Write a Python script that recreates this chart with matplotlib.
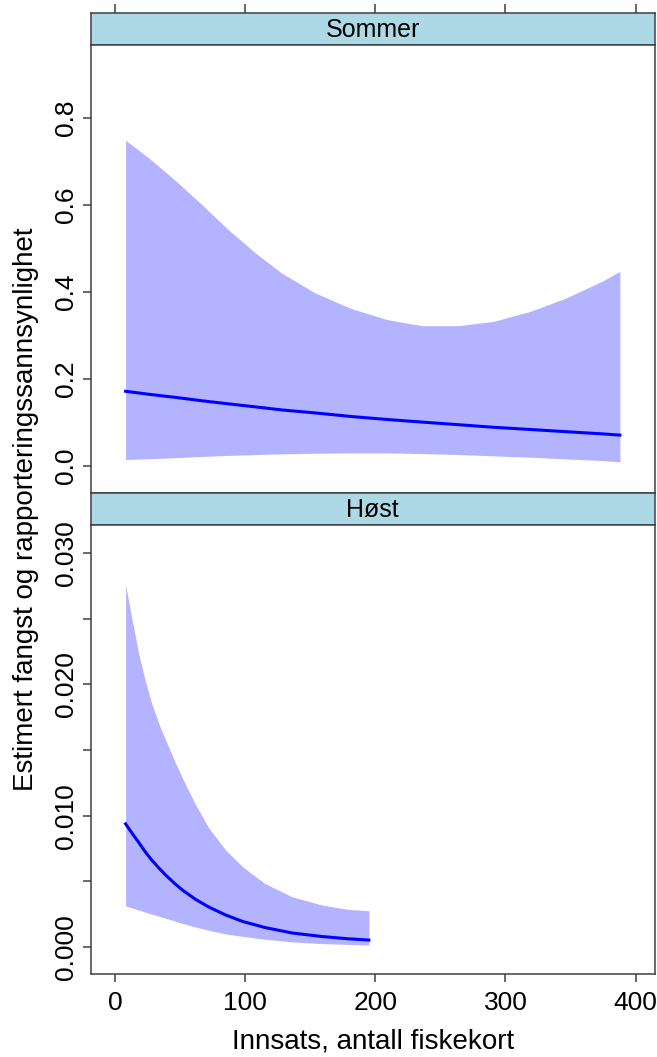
import numpy as np
import matplotlib
matplotlib.use("Agg")
import matplotlib.pyplot as plt

plt.rcParams['font.family'] = ['Liberation Sans', 'DejaVu Sans']

# Sommer panel
sommer_x = [8, 26, 46, 67, 87, 108, 128, 154, 181, 209, 236, 264, 291, 319, 346, 374, 388]
sommer_fit = [0.171, 0.164, 0.157, 0.149, 0.142, 0.135, 0.128, 0.121, 0.113, 0.106,
              0.100, 0.094, 0.088, 0.083, 0.078, 0.073, 0.070]
sommer_lo = [0.0138, 0.0157, 0.0179, 0.0209, 0.0232, 0.0253, 0.0269, 0.0283, 0.0291,
             0.0291, 0.0276, 0.0253, 0.0222, 0.0192, 0.0153, 0.0115, 0.0084]
sommer_hi = [0.749, 0.708, 0.657, 0.600, 0.543, 0.489, 0.443, 0.397, 0.362, 0.336,
             0.322, 0.322, 0.332, 0.355, 0.385, 0.424, 0.447]

# Høst panel
host_x = [8, 13, 18, 23, 28, 34, 39, 46, 52, 62, 72, 85, 98, 115, 136, 159, 179, 195]
host_fit = [0.00937, 0.00865, 0.00797, 0.00725, 0.00662, 0.00596, 0.00545, 0.00480,
            0.00430, 0.00360, 0.00303, 0.00242, 0.00193, 0.00147, 0.00105, 0.00078,
            0.00061, 0.00051]
host_lo = [0.00312, 0.00296, 0.00281, 0.00264, 0.00249, 0.00232, 0.00217, 0.00196,
           0.00177, 0.00150, 0.00126, 0.00098, 0.00079, 0.00058, 0.00037, 0.00024,
           0.00018, 0.00013]
host_hi = [0.02758, 0.02493, 0.02237, 0.02034, 0.01856, 0.01690, 0.01570, 0.01410,
           0.01280, 0.01080, 0.00905, 0.00737, 0.00610, 0.00483, 0.00381, 0.00318,
           0.00285, 0.00275]

x_ticks = [0, 100, 200, 300, 400]
sommer_ticks = [0.0, 0.2, 0.4, 0.6, 0.8]
host_ticks = [0.000, 0.010, 0.020, 0.030]
host_minor = [0.005, 0.015, 0.025]

W, H = 657, 1057
fig = plt.figure(figsize=(W / 100, H / 100), dpi=100)

left = 91 / W
width = (654.5 - 91) / W
frame_col = '0.25'
band_col = '#B3B3FF'
strip_col = '#ADD8E6'
tick_fs = 19


def box(y0, y1):
    # y0, y1 in pixels from the top
    return [left, 1 - y1 / H, width, (y1 - y0) / H]


def style(ax):
    for s in ax.spines.values():
        s.set_color(frame_col)
        s.set_linewidth(1.1)
    ax.tick_params(colors=frame_col, labelcolor='black', length=6, width=1.1,
                   direction='out', labelsize=tick_fs)


strip1 = fig.add_axes(box(13.3, 45.2))
ax1 = fig.add_axes(box(45.2, 493.3))
strip2 = fig.add_axes(box(493.3, 525.3))
ax2 = fig.add_axes(box(525.3, 974.3))

for ax in [strip1, ax1, strip2, ax2]:
    style(ax)
    ax.set_xlim(-18.6, 414.6)

# strips
for st, name in [(strip1, 'Sommer'), (strip2, 'Høst')]:
    st.set_facecolor(strip_col)
    st.set_ylim(0, 1)
    st.set_yticks([])
    st.text(0.5, 0.47, name, transform=st.transAxes, ha='center', va='center',
            fontsize=18)

strip1.xaxis.set_ticks_position('top')
strip1.set_xticks(x_ticks)
strip1.tick_params(axis='x', labeltop=False, length=6.5)
strip2.set_xticks([])

# Sommer panel
ax1.fill_between(sommer_x, sommer_lo, sommer_hi, color=band_col, lw=0)
ax1.plot(sommer_x, sommer_fit, color='#0000FF', lw=2.2)
ax1.set_ylim(-0.064, 0.968)
ax1.set_xticks([])
ax1.set_yticks(sommer_ticks)
ax1.set_yticklabels(['0.0', '0.2', '0.4', '0.6', '0.8'])
ax1.tick_params(axis='y', labelrotation=90, pad=3)
for lab in ax1.get_yticklabels():
    lab.set_va('center')

# Høst panel
ax2.fill_between(host_x, host_lo, host_hi, color=band_col, lw=0)
ax2.plot(host_x, host_fit, color='#0000FF', lw=2.2)
ax2.set_ylim(-0.0021, 0.03214)
ax2.set_xticks(x_ticks)
ax2.set_yticks(host_ticks)
ax2.set_yticklabels(['0.000', '0.010', '0.020', '0.030'])
ax2.set_yticks(host_minor, minor=True)
ax2.tick_params(axis='y', which='minor', length=6, width=1.1, colors=frame_col)
ax2.tick_params(axis='y', labelrotation=90, pad=3)
ax2.tick_params(axis='x', pad=6)
for lab in ax2.get_yticklabels():
    lab.set_va('center')

fig.text(26 / W, 1 - 509 / H, 'Estimert fangst og rapporteringssannsynlighet',
         rotation=90, ha='center', va='center', fontsize=20)
fig.text(left + width / 2, 1 - 1049 / H, 'Innsats, antall fiskekort',
         ha='center', va='baseline', fontsize=20)

fig.savefig('out.png', dpi=100, facecolor='white')
